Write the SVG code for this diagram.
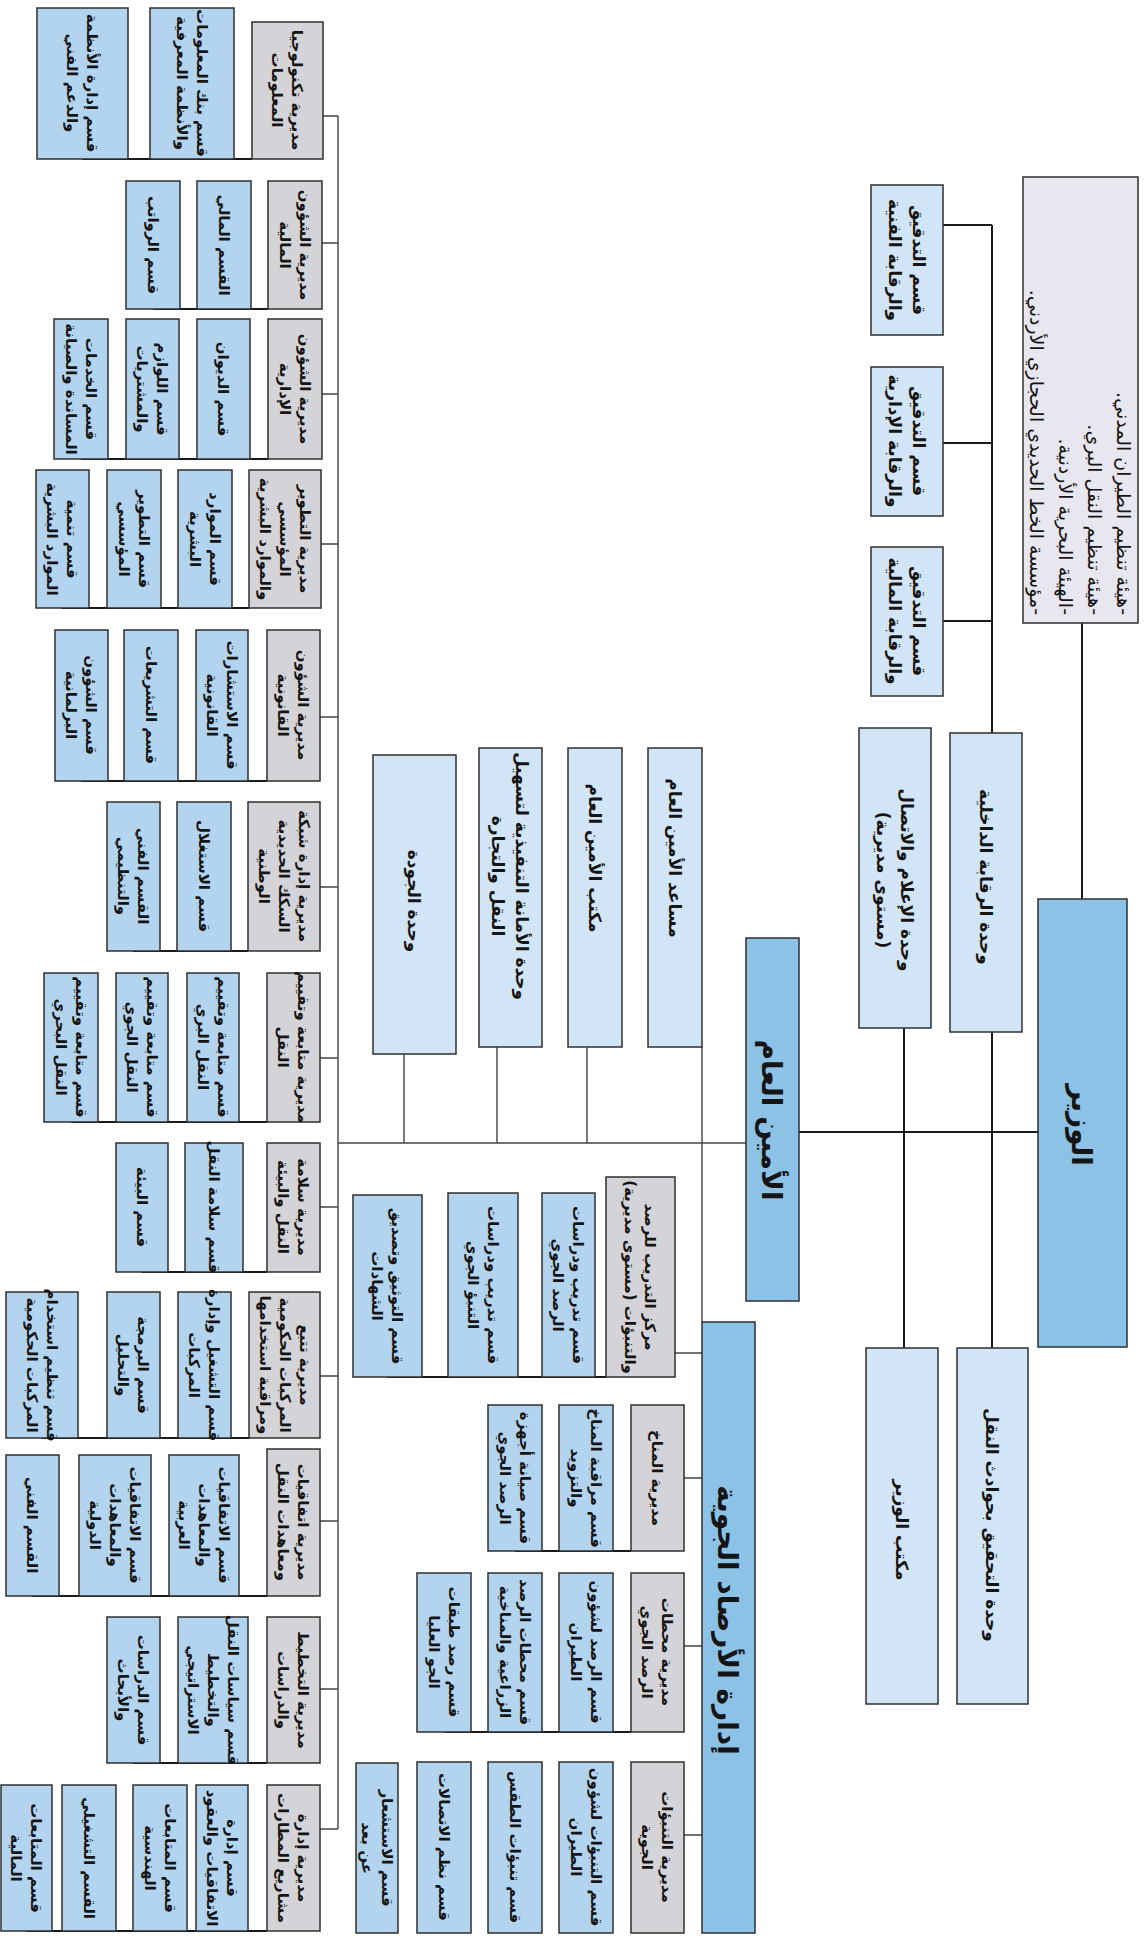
<svg xmlns="http://www.w3.org/2000/svg" width="1148" height="1936" viewBox="0 0 1148 1936">
<style>
.bg{fill:#ffffff}
.sec{fill:#b3d4ef;stroke:#2f2f2f;stroke-width:1.5}
.dir{fill:#d4d4d8;stroke:#2f2f2f;stroke-width:1.5}
.unit{fill:#d2e5f6;stroke:#2f2f2f;stroke-width:1.5}
.head{fill:#8cc2e6;stroke:#2f2f2f;stroke-width:1.5}
.board{fill:#e8e6ef;stroke:#2f2f2f;stroke-width:1.5}
.t{font-family:"DejaVu Sans","Noto Sans",sans-serif;font-weight:700;font-size:15px;fill:#151515;direction:rtl}
.u{font-size:17px}
.h{font-size:28px}
.b{font-size:19px;font-weight:400}
.c{fill:none;stroke:#1a1a1a;stroke-width:2}
.c2{fill:none;stroke:#444;stroke-width:1.4}
.c3{fill:none;stroke:#1a1a1a;stroke-width:2.2}
</style>
<rect class="bg" x="0" y="0" width="1148" height="1936"/>

<g id="connectors">
<path class="c" d="M1082 623V899M992 225V733M943 225H992M943 443H992M942 621H992M1038 1132H799M904 1028V1348M992 1032V1348"/>
<path class="c2" d="M747 1143H338M404 1054V1143M497 1047V1143M587 1047V1143M702 1047V1322M338 116V1829"/>
<path class="c2" d="M323 116H338M322 243H338M322 394H338M321 544H338M320 717H338M320 887H338M320 1058H338M320 1207H338M320 1376H338M320 1521H338M320 1689H338M320 1829H338"/>
<path class="c2" d="M675 1353H702M684 1478H702M684 1646H702M684 1835H702"/>
<path class="c3" d="M82 159H252M153 309H268M81 459H268M62 608H249M81 781H267M133 951H248M71 1122H267M142 1272H267M42 1438H249M32 1596H267M133 1763H267M26 1931H267M387 1377H606M515 1551H631M444 1732H631"/>
</g>

<g id="board"><rect class="board" x="1023" y="177" width="115" height="446"/>
<text class="t b" transform="translate(1080 615) rotate(90)" text-anchor="start"><tspan x="0" dy="-36.8">-هيئة تنظيم الطيران المدني.</tspan><tspan x="0" dy="29">-هيئة تنظيم النقل البري.</tspan><tspan x="0" dy="29">-الهيئة البحرية الأردنية.</tspan><tspan x="0" dy="29">-مؤسسة الخط الحديدي الحجازي الأردني.</tspan></text></g>

<g id="minister"><rect class="head" x="1038" y="899" width="89" height="448"/>
<text class="t h" transform="translate(1082 1125) rotate(90)" text-anchor="middle"><tspan x="0" dy="10">الوزير</tspan></text></g>

<g id="audit-tech"><rect class="unit" x="871" y="185" width="72" height="150"/>
<text class="t u" transform="translate(907 260) rotate(90)" text-anchor="middle"><tspan x="0" dy="-6">قسم التدقيق</tspan><tspan x="0" dy="24">والرقابة الفنية</tspan></text></g>
<g id="audit-admin"><rect class="unit" x="871" y="367" width="72" height="149"/>
<text class="t u" transform="translate(907 441) rotate(90)" text-anchor="middle"><tspan x="0" dy="-6">قسم التدقيق</tspan><tspan x="0" dy="24">والرقابة الإدارية</tspan></text></g>
<g id="audit-fin"><rect class="unit" x="871" y="547" width="72" height="149"/>
<text class="t u" transform="translate(907 621) rotate(90)" text-anchor="middle"><tspan x="0" dy="-6">قسم التدقيق</tspan><tspan x="0" dy="24">والرقابة المالية</tspan></text></g>

<g id="internal-control"><rect class="unit" x="950" y="733" width="72" height="299"/>
<text class="t u" transform="translate(986 877) rotate(90)" text-anchor="middle"><tspan x="0" dy="6">وحدة الرقابة الداخلية</tspan></text></g>
<g id="media"><rect class="unit" x="859" y="728" width="72" height="300"/>
<text class="t u" transform="translate(895 880) rotate(90)" text-anchor="middle"><tspan x="0" dy="-6">وحدة الإعلام والاتصال</tspan><tspan x="0" dy="24">(مستوى مديرية)</tspan></text></g>
<g id="investigation"><rect class="unit" x="957" y="1348" width="71" height="356"/>
<text class="t u" transform="translate(992 1525) rotate(90)" text-anchor="middle"><tspan x="0" dy="6">وحدة التحقيق بحوادث النقل</tspan></text></g>
<g id="minister-office"><rect class="unit" x="866" y="1348" width="72" height="356"/>
<text class="t u" transform="translate(902 1530) rotate(90)" text-anchor="middle"><tspan x="0" dy="6">مكتب الوزير</tspan></text></g>

<g id="secretary-general"><rect class="head" x="746" y="938" width="53" height="363"/>
<text class="t h" transform="translate(772 1120) rotate(90)" text-anchor="middle"><tspan x="0" dy="10">الأمين العام</tspan></text></g>

<g id="quality"><rect class="unit" x="373" y="755" width="83" height="299"/>
<text class="t u" transform="translate(414 901) rotate(90)" text-anchor="middle"><tspan x="0" dy="6">وحدة الجودة</tspan></text></g>
<g id="facilitation"><rect class="unit" x="479" y="748" width="63" height="299"/>
<text class="t u" transform="translate(510 876) rotate(90)" text-anchor="middle"><tspan x="0" dy="-6">وحدة الأمانة التنفيذية لتسهيل</tspan><tspan x="0" dy="24">النقل والتجارة</tspan></text></g>
<g id="sg-office"><rect class="unit" x="568" y="748" width="54" height="299"/>
<text class="t u" transform="translate(595 858) rotate(90)" text-anchor="middle"><tspan x="0" dy="6">مكتب الأمين العام</tspan></text></g>
<g id="sg-assistant"><rect class="unit" x="648" y="748" width="54" height="299"/>
<text class="t u" transform="translate(675 858) rotate(90)" text-anchor="middle"><tspan x="0" dy="6">مساعد الأمين العام</tspan></text></g>

<g id="meteo"><rect class="head" x="702" y="1322" width="53" height="611"/>
<text class="t h" transform="translate(728 1620) rotate(90)" text-anchor="middle"><tspan x="0" dy="10">إدارة الأرصاد الجوية</tspan></text></g>

<!-- Directorates -->
<g id="d1"><rect class="dir" x="252" y="22" width="71" height="137"/>
<text class="t" transform="translate(287 90) rotate(90)" text-anchor="middle"><tspan x="0" dy="-5">مديرية تكنولوجيا</tspan><tspan x="0" dy="20">المعلومات</tspan></text></g>
<g id="d2"><rect class="dir" x="268" y="181" width="54" height="128"/>
<text class="t" transform="translate(295 245) rotate(90)" text-anchor="middle"><tspan x="0" dy="-5">مديرية الشؤون</tspan><tspan x="0" dy="20">المالية</tspan></text></g>
<g id="d3"><rect class="dir" x="268" y="319" width="54" height="140"/>
<text class="t" transform="translate(295 389) rotate(90)" text-anchor="middle"><tspan x="0" dy="-5">مديرية الشؤون</tspan><tspan x="0" dy="20">الإدارية</tspan></text></g>
<g id="d4"><rect class="dir" x="249" y="470" width="72" height="138"/>
<text class="t" transform="translate(285 539) rotate(90)" text-anchor="middle"><tspan x="0" dy="-15">مديرية التطوير</tspan><tspan x="0" dy="20">المؤسسي</tspan><tspan x="0" dy="20">والموارد البشرية</tspan></text></g>
<g id="d5"><rect class="dir" x="267" y="630" width="53" height="151"/>
<text class="t" transform="translate(293 705) rotate(90)" text-anchor="middle"><tspan x="0" dy="-5">مديرية الشؤون</tspan><tspan x="0" dy="20">القانونية</tspan></text></g>
<g id="d6"><rect class="dir" x="248" y="802" width="72" height="149"/>
<text class="t" transform="translate(284 876) rotate(90)" text-anchor="middle"><tspan x="0" dy="-15">مديرية إدارة شبكة</tspan><tspan x="0" dy="20">السكك الحديدية</tspan><tspan x="0" dy="20">الوطنية</tspan></text></g>
<g id="d7"><rect class="dir" x="267" y="973" width="53" height="149"/>
<text class="t" transform="translate(293 1047) rotate(90)" text-anchor="middle"><tspan x="0" dy="-5">مديرية متابعة وتقييم</tspan><tspan x="0" dy="20">النقل</tspan></text></g>
<g id="d8"><rect class="dir" x="267" y="1143" width="53" height="129"/>
<text class="t" transform="translate(293 1207) rotate(90)" text-anchor="middle"><tspan x="0" dy="-5">مديرية سلامة</tspan><tspan x="0" dy="20">النقل والبيئة</tspan></text></g>
<g id="d9"><rect class="dir" x="249" y="1292" width="71" height="146"/>
<text class="t" transform="translate(285 1365) rotate(90)" text-anchor="middle"><tspan x="0" dy="-15">مديرية تتبع</tspan><tspan x="0" dy="20">المركبات الحكومية</tspan><tspan x="0" dy="20">ومراقبة استخدامها</tspan></text></g>
<g id="d10"><rect class="dir" x="267" y="1449" width="53" height="147"/>
<text class="t" transform="translate(293 1522) rotate(90)" text-anchor="middle"><tspan x="0" dy="-5">مديرية اتفاقيات</tspan><tspan x="0" dy="20">ومعاهدات النقل</tspan></text></g>
<g id="d11"><rect class="dir" x="267" y="1617" width="53" height="146"/>
<text class="t" transform="translate(293 1690) rotate(90)" text-anchor="middle"><tspan x="0" dy="-5">مديرية التخطيط</tspan><tspan x="0" dy="20">والدراسات</tspan></text></g>
<g id="d12"><rect class="dir" x="267" y="1785" width="53" height="146"/>
<text class="t" transform="translate(293 1858) rotate(90)" text-anchor="middle"><tspan x="0" dy="-5">مديرية إدارة</tspan><tspan x="0" dy="20">مشاريع المطارات</tspan></text></g>

<!-- Sections -->
<g id="s1a"><rect class="sec" x="150" y="8" width="84" height="151"/>
<text class="t" transform="translate(192 83) rotate(90)" text-anchor="middle"><tspan x="0" dy="-5">قسم بنك المعلومات</tspan><tspan x="0" dy="20">والأنظمة المعرفية</tspan></text></g>
<g id="s1b"><rect class="sec" x="37" y="8" width="91" height="151"/>
<text class="t" transform="translate(82 83) rotate(90)" text-anchor="middle"><tspan x="0" dy="-5">قسم إدارة الأنظمة</tspan><tspan x="0" dy="20">والدعم الفني</tspan></text></g>

<g id="s2a"><rect class="sec" x="197" y="181" width="54" height="128"/>
<text class="t" transform="translate(224 245) rotate(90)" text-anchor="middle"><tspan x="0" dy="5">القسم المالي</tspan></text></g>
<g id="s2b"><rect class="sec" x="126" y="181" width="54" height="128"/>
<text class="t" transform="translate(153 245) rotate(90)" text-anchor="middle"><tspan x="0" dy="5">قسم الرواتب</tspan></text></g>

<g id="s3a"><rect class="sec" x="197" y="319" width="53" height="140"/>
<text class="t" transform="translate(223 389) rotate(90)" text-anchor="middle"><tspan x="0" dy="5">قسم الديوان</tspan></text></g>
<g id="s3b"><rect class="sec" x="126" y="319" width="53" height="140"/>
<text class="t" transform="translate(152 389) rotate(90)" text-anchor="middle"><tspan x="0" dy="-5">قسم اللوازم</tspan><tspan x="0" dy="20">والمشتريات</tspan></text></g>
<g id="s3c"><rect class="sec" x="54" y="319" width="54" height="140"/>
<text class="t" transform="translate(81 389) rotate(90)" text-anchor="middle"><tspan x="0" dy="-5">قسم الخدمات</tspan><tspan x="0" dy="20">المساندة والصيانة</tspan></text></g>

<g id="s4a"><rect class="sec" x="178" y="470" width="54" height="138"/>
<text class="t" transform="translate(205 539) rotate(90)" text-anchor="middle"><tspan x="0" dy="-5">قسم الموارد</tspan><tspan x="0" dy="20">البشرية</tspan></text></g>
<g id="s4b"><rect class="sec" x="107" y="470" width="54" height="138"/>
<text class="t" transform="translate(134 539) rotate(90)" text-anchor="middle"><tspan x="0" dy="-5">قسم التطوير</tspan><tspan x="0" dy="20">المؤسسي</tspan></text></g>
<g id="s4c"><rect class="sec" x="36" y="470" width="53" height="138"/>
<text class="t" transform="translate(62 539) rotate(90)" text-anchor="middle"><tspan x="0" dy="-5">قسم تنمية</tspan><tspan x="0" dy="20">الموارد البشرية</tspan></text></g>

<g id="s5a"><rect class="sec" x="196" y="630" width="52" height="151"/>
<text class="t" transform="translate(222 705) rotate(90)" text-anchor="middle"><tspan x="0" dy="-5">قسم الاستشارات</tspan><tspan x="0" dy="20">القانونية</tspan></text></g>
<g id="s5b"><rect class="sec" x="124" y="630" width="54" height="151"/>
<text class="t" transform="translate(151 705) rotate(90)" text-anchor="middle"><tspan x="0" dy="5">قسم التشريعات</tspan></text></g>
<g id="s5c"><rect class="sec" x="55" y="630" width="53" height="151"/>
<text class="t" transform="translate(81 705) rotate(90)" text-anchor="middle"><tspan x="0" dy="-5">قسم الشؤون</tspan><tspan x="0" dy="20">البرلمانية</tspan></text></g>

<g id="s6a"><rect class="sec" x="177" y="802" width="54" height="149"/>
<text class="t" transform="translate(204 876) rotate(90)" text-anchor="middle"><tspan x="0" dy="5">قسم الاستغلال</tspan></text></g>
<g id="s6b"><rect class="sec" x="107" y="802" width="53" height="149"/>
<text class="t" transform="translate(133 876) rotate(90)" text-anchor="middle"><tspan x="0" dy="-5">القسم الفني</tspan><tspan x="0" dy="20">والتنظيمي</tspan></text></g>

<g id="s7a"><rect class="sec" x="187" y="973" width="52" height="149"/>
<text class="t" transform="translate(213 1047) rotate(90)" text-anchor="middle"><tspan x="0" dy="-5">قسم متابعة وتقييم</tspan><tspan x="0" dy="20">النقل البري</tspan></text></g>
<g id="s7b"><rect class="sec" x="116" y="973" width="52" height="149"/>
<text class="t" transform="translate(142 1047) rotate(90)" text-anchor="middle"><tspan x="0" dy="-5">قسم متابعة وتقييم</tspan><tspan x="0" dy="20">النقل الجوي</tspan></text></g>
<g id="s7c"><rect class="sec" x="44" y="973" width="54" height="149"/>
<text class="t" transform="translate(71 1047) rotate(90)" text-anchor="middle"><tspan x="0" dy="-5">قسم متابعة وتقييم</tspan><tspan x="0" dy="20">النقل البحري</tspan></text></g>

<g id="s8a"><rect class="sec" x="185" y="1143" width="58" height="129"/>
<text class="t" transform="translate(214 1207) rotate(90)" text-anchor="middle"><tspan x="0" dy="5">قسم سلامة النقل</tspan></text></g>
<g id="s8b"><rect class="sec" x="116" y="1143" width="52" height="129"/>
<text class="t" transform="translate(142 1207) rotate(90)" text-anchor="middle"><tspan x="0" dy="5">قسم البيئة</tspan></text></g>

<g id="s9a"><rect class="sec" x="178" y="1292" width="53" height="146"/>
<text class="t" transform="translate(204 1365) rotate(90)" text-anchor="middle"><tspan x="0" dy="-5">قسم التشغيل وإدارة</tspan><tspan x="0" dy="20">المركبات</tspan></text></g>
<g id="s9b"><rect class="sec" x="107" y="1292" width="53" height="146"/>
<text class="t" transform="translate(133 1365) rotate(90)" text-anchor="middle"><tspan x="0" dy="-5">قسم البرمجة</tspan><tspan x="0" dy="20">والتحليل</tspan></text></g>
<g id="s9c"><rect class="sec" x="6" y="1292" width="72" height="146"/>
<text class="t" transform="translate(42 1365) rotate(90)" text-anchor="middle"><tspan x="0" dy="-5">قسم تنظيم استخدام</tspan><tspan x="0" dy="20">المركبات الحكومية</tspan></text></g>

<g id="s10a"><rect class="sec" x="169" y="1455" width="70" height="141"/>
<text class="t" transform="translate(204 1525) rotate(90)" text-anchor="middle"><tspan x="0" dy="-15">قسم الاتفاقيات</tspan><tspan x="0" dy="20">والمعاهدات</tspan><tspan x="0" dy="20">العربية</tspan></text></g>
<g id="s10b"><rect class="sec" x="79" y="1455" width="72" height="141"/>
<text class="t" transform="translate(115 1525) rotate(90)" text-anchor="middle"><tspan x="0" dy="-15">قسم الاتفاقيات</tspan><tspan x="0" dy="20">والمعاهدات</tspan><tspan x="0" dy="20">الدولية</tspan></text></g>
<g id="s10c"><rect class="sec" x="6" y="1455" width="53" height="141"/>
<text class="t" transform="translate(32 1525) rotate(90)" text-anchor="middle"><tspan x="0" dy="5">القسم الفني</tspan></text></g>

<g id="s11a"><rect class="sec" x="178" y="1617" width="70" height="146"/>
<text class="t" transform="translate(213 1690) rotate(90)" text-anchor="middle"><tspan x="0" dy="-15">قسم سياسات النقل</tspan><tspan x="0" dy="20">والتخطيط</tspan><tspan x="0" dy="20">الاستراتيجي</tspan></text></g>
<g id="s11b"><rect class="sec" x="107" y="1617" width="53" height="146"/>
<text class="t" transform="translate(133 1690) rotate(90)" text-anchor="middle"><tspan x="0" dy="-5">قسم الدراسات</tspan><tspan x="0" dy="20">والأبحاث</tspan></text></g>

<g id="s12a"><rect class="sec" x="196" y="1785" width="52" height="146"/>
<text class="t" transform="translate(222 1858) rotate(90)" text-anchor="middle"><tspan x="0" dy="-5">قسم إدارة</tspan><tspan x="0" dy="20">الاتفاقيات والعقود</tspan></text></g>
<g id="s12b"><rect class="sec" x="133" y="1785" width="54" height="146"/>
<text class="t" transform="translate(160 1858) rotate(90)" text-anchor="middle"><tspan x="0" dy="-5">قسم المتابعات</tspan><tspan x="0" dy="20">الهندسية</tspan></text></g>
<g id="s12c"><rect class="sec" x="62" y="1785" width="54" height="146"/>
<text class="t" transform="translate(89 1858) rotate(90)" text-anchor="middle"><tspan x="0" dy="5">القسم التشغيلي</tspan></text></g>
<g id="s12d"><rect class="sec" x="1" y="1785" width="51" height="146"/>
<text class="t" transform="translate(26 1858) rotate(90)" text-anchor="middle"><tspan x="0" dy="-5">قسم المتابعات</tspan><tspan x="0" dy="20">المالية</tspan></text></g>

<!-- Meteorology -->
<g id="m-train"><rect class="dir" x="606" y="1177" width="69" height="200"/>
<text class="t" transform="translate(640 1277) rotate(90)" text-anchor="middle"><tspan x="0" dy="-5">مركز التدريب للرصد</tspan><tspan x="0" dy="20">والتنبؤات (مستوى مديرية)</tspan></text></g>
<g id="m-train-a"><rect class="sec" x="542" y="1193" width="53" height="184"/>
<text class="t" transform="translate(568 1285) rotate(90)" text-anchor="middle"><tspan x="0" dy="-5">قسم تدريب ودراسات</tspan><tspan x="0" dy="20">الرصد الجوي</tspan></text></g>
<g id="m-train-b"><rect class="sec" x="448" y="1193" width="70" height="184"/>
<text class="t" transform="translate(483 1285) rotate(90)" text-anchor="middle"><tspan x="0" dy="-5">قسم تدريب ودراسات</tspan><tspan x="0" dy="20">التنبؤ الجوي</tspan></text></g>
<g id="m-train-c"><rect class="sec" x="353" y="1195" width="69" height="182"/>
<text class="t" transform="translate(387 1286) rotate(90)" text-anchor="middle"><tspan x="0" dy="-5">قسم التوثيق وتصديق</tspan><tspan x="0" dy="20">الشهادات</tspan></text></g>

<g id="m-climate"><rect class="dir" x="631" y="1405" width="53" height="146"/>
<text class="t" transform="translate(657 1478) rotate(90)" text-anchor="middle"><tspan x="0" dy="5">مديرية المناخ</tspan></text></g>
<g id="m-climate-a"><rect class="sec" x="559" y="1405" width="54" height="146"/>
<text class="t" transform="translate(586 1478) rotate(90)" text-anchor="middle"><tspan x="0" dy="-5">قسم مراقبة المناخ</tspan><tspan x="0" dy="20">والتزويد</tspan></text></g>
<g id="m-climate-b"><rect class="sec" x="488" y="1405" width="54" height="146"/>
<text class="t" transform="translate(515 1478) rotate(90)" text-anchor="middle"><tspan x="0" dy="-5">قسم صيانة أجهزة</tspan><tspan x="0" dy="20">الرصد الجوي</tspan></text></g>

<g id="m-stations"><rect class="dir" x="631" y="1573" width="53" height="159"/>
<text class="t" transform="translate(657 1652) rotate(90)" text-anchor="middle"><tspan x="0" dy="-5">مديرية محطات</tspan><tspan x="0" dy="20">الرصد الجوي</tspan></text></g>
<g id="m-stations-a"><rect class="sec" x="559" y="1573" width="54" height="159"/>
<text class="t" transform="translate(586 1652) rotate(90)" text-anchor="middle"><tspan x="0" dy="-5">قسم الرصد لشؤون</tspan><tspan x="0" dy="20">الطيران</tspan></text></g>
<g id="m-stations-b"><rect class="sec" x="488" y="1573" width="54" height="159"/>
<text class="t" transform="translate(515 1652) rotate(90)" text-anchor="middle"><tspan x="0" dy="-5">قسم محطات الرصد</tspan><tspan x="0" dy="20">الزراعية والمناخية</tspan></text></g>
<g id="m-stations-c"><rect class="sec" x="417" y="1573" width="54" height="159"/>
<text class="t" transform="translate(444 1652) rotate(90)" text-anchor="middle"><tspan x="0" dy="-5">قسم رصد طبقات</tspan><tspan x="0" dy="20">الجو العليا</tspan></text></g>

<g id="m-forecast"><rect class="dir" x="631" y="1762" width="53" height="171"/>
<text class="t" transform="translate(657 1847) rotate(90)" text-anchor="middle"><tspan x="0" dy="-5">مديرية التنبؤات</tspan><tspan x="0" dy="20">الجوية</tspan></text></g>
<g id="m-forecast-a"><rect class="sec" x="559" y="1762" width="54" height="171"/>
<text class="t" transform="translate(586 1847) rotate(90)" text-anchor="middle"><tspan x="0" dy="-5">قسم التنبؤات لشؤون</tspan><tspan x="0" dy="20">الطيران</tspan></text></g>
<g id="m-forecast-b"><rect class="sec" x="488" y="1762" width="54" height="171"/>
<text class="t" transform="translate(515 1847) rotate(90)" text-anchor="middle"><tspan x="0" dy="5">قسم تنبؤات الطقس</tspan></text></g>
<g id="m-forecast-c"><rect class="sec" x="417" y="1762" width="54" height="171"/>
<text class="t" transform="translate(444 1847) rotate(90)" text-anchor="middle"><tspan x="0" dy="5">قسم نظم الاتصالات</tspan></text></g>
<g id="m-forecast-d"><rect class="sec" x="356" y="1763" width="42" height="170"/>
<text class="t" transform="translate(377 1848) rotate(90)" text-anchor="middle"><tspan x="0" dy="-5">قسم الاستشعار</tspan><tspan x="0" dy="20">عن بعد</tspan></text></g>
</svg>
